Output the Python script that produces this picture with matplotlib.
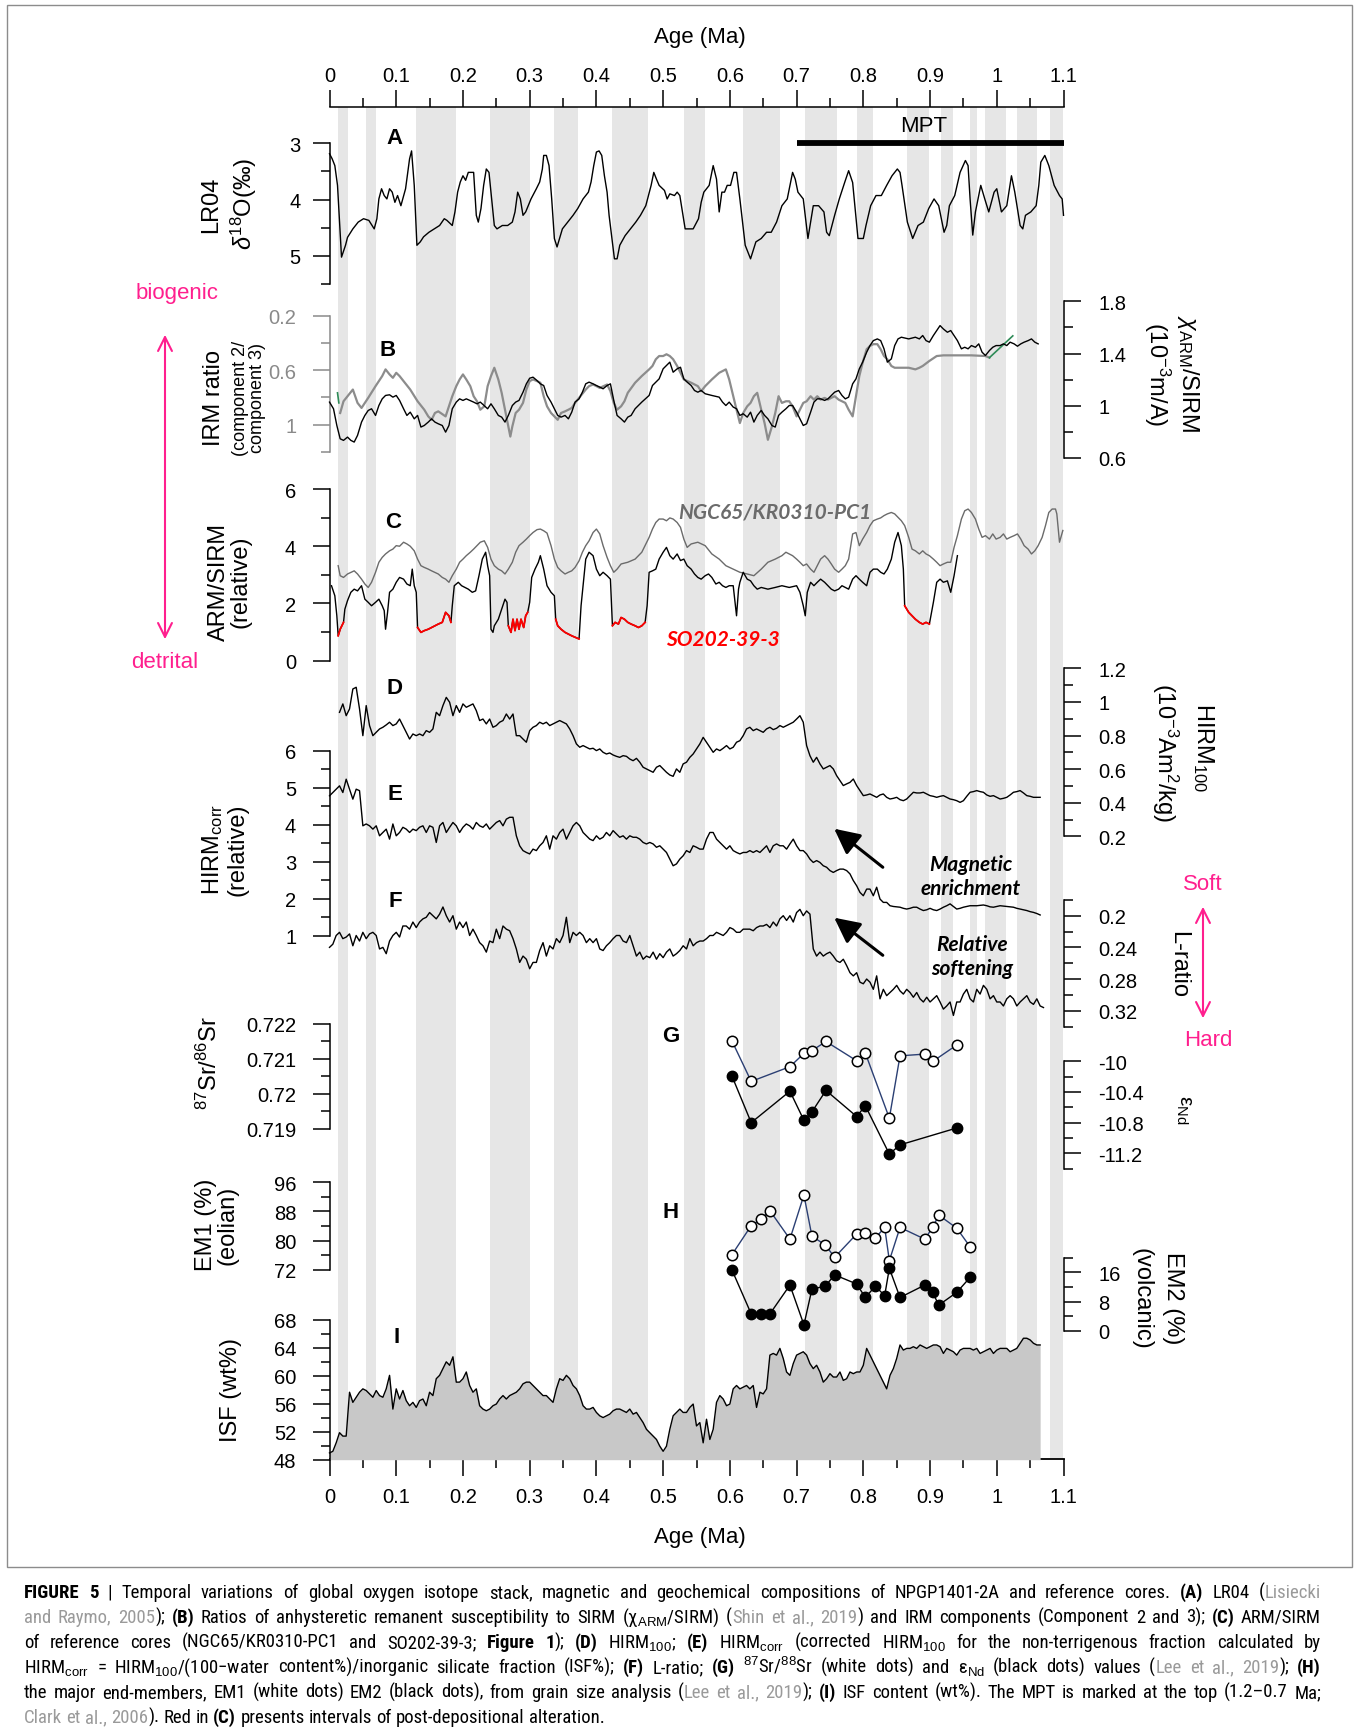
import matplotlib
matplotlib.use("Agg")
import matplotlib.pyplot as plt
import numpy as np
from matplotlib import font_manager
from matplotlib.patches import Rectangle, FancyArrowPatch

# ---------------------------------------------------------------- data
# glacial intervals (grey bands), Ma
glacial_bands = [(0.012, 0.027), (0.055, 0.069), (0.129, 0.190), (0.241, 0.300),
                 (0.336, 0.373), (0.423, 0.477), (0.532, 0.562), (0.619, 0.675),
                 (0.712, 0.760), (0.790, 0.814), (0.866, 0.898), (0.917, 0.935),
                 (0.960, 0.971), (0.982, 1.014), (1.031, 1.061), (1.080, 1.100)]
mpt_range = (0.7, 1.1)

# (A) LR04 d18O
lr04_age = [0.000, 0.004, 0.008, 0.012, 0.016, 0.018, 0.024, 0.027, 0.035, 0.043,
            0.051, 0.059, 0.067, 0.071, 0.074, 0.078, 0.082, 0.086, 0.090, 0.094,
            0.098, 0.102, 0.107, 0.114, 0.120, 0.123, 0.127, 0.131, 0.136, 0.141,
            0.149, 0.157, 0.165, 0.172, 0.176, 0.184, 0.188, 0.192, 0.196, 0.200,
            0.204, 0.208, 0.216, 0.220, 0.223, 0.227, 0.231, 0.235, 0.239, 0.243,
            0.247, 0.251, 0.259, 0.267, 0.274, 0.278, 0.282, 0.286, 0.290, 0.294,
            0.302, 0.310, 0.315, 0.319, 0.321, 0.325, 0.329, 0.333, 0.337, 0.341,
            0.349, 0.357, 0.365, 0.372, 0.380, 0.388, 0.392, 0.396, 0.400, 0.404,
            0.408, 0.412, 0.416, 0.419, 0.427, 0.431, 0.435, 0.443, 0.451, 0.459,
            0.466, 0.474, 0.482, 0.486, 0.490, 0.494, 0.502, 0.506, 0.510, 0.517,
            0.521, 0.525, 0.533, 0.545, 0.553, 0.557, 0.561, 0.569, 0.575, 0.580,
            0.584, 0.588, 0.592, 0.596, 0.601, 0.606, 0.610, 0.615, 0.623, 0.631,
            0.639, 0.647, 0.655, 0.662, 0.670, 0.678, 0.686, 0.694, 0.698, 0.702,
            0.710, 0.717, 0.725, 0.733, 0.741, 0.745, 0.749, 0.757, 0.764, 0.772,
            0.778, 0.784, 0.792, 0.800, 0.804, 0.811, 0.819, 0.827, 0.835, 0.843,
            0.851, 0.855, 0.858, 0.866, 0.874, 0.882, 0.890, 0.898, 0.906, 0.913,
            0.921, 0.925, 0.929, 0.937, 0.945, 0.953, 0.957, 0.960, 0.964, 0.968,
            0.976, 0.982, 0.988, 0.996, 1.000, 1.007, 1.015, 1.022, 1.027, 1.035,
            1.039, 1.043, 1.051, 1.059, 1.063, 1.066, 1.072, 1.078, 1.086, 1.094,
            1.098, 1.100]
lr04_d18o = [3.19, 3.28, 3.40, 3.75, 4.58, 5.02, 4.81, 4.67, 4.52, 4.40,
             4.34, 4.37, 4.52, 4.34, 3.99, 3.81, 3.93, 3.99, 3.81, 3.87,
             4.05, 3.93, 4.11, 3.81, 3.28, 3.14, 3.75, 4.81, 4.75, 4.66,
             4.58, 4.52, 4.46, 4.34, 4.37, 4.46, 4.22, 3.87, 3.69, 3.58,
             3.66, 3.52, 3.52, 4.28, 4.40, 4.16, 3.75, 3.46, 3.52, 3.99,
             4.46, 4.52, 4.46, 4.46, 4.40, 4.22, 3.87, 3.99, 4.28, 4.22,
             3.99, 3.81, 3.69, 3.46, 3.22, 3.22, 3.40, 3.99, 4.69, 4.84,
             4.52, 4.40, 4.28, 4.16, 3.99, 3.87, 3.69, 3.40, 3.16, 3.14,
             3.22, 3.58, 3.87, 4.28, 5.05, 5.05, 4.81, 4.64, 4.52, 4.40,
             4.28, 4.11, 3.75, 3.52, 3.64, 3.75, 3.84, 3.99, 3.90, 3.93,
             3.87, 3.93, 4.52, 4.52, 4.34, 4.05, 3.87, 3.75, 3.40, 3.64,
             4.22, 3.87, 3.87, 3.75, 3.75, 3.52, 3.52, 3.99, 4.81, 5.05,
             4.75, 4.69, 4.58, 4.58, 4.40, 4.11, 3.99, 3.52, 3.64, 3.87,
             3.99, 4.69, 4.11, 4.11, 4.22, 4.58, 4.64, 4.28, 3.99, 3.70,
             3.49, 3.70, 4.69, 4.69, 4.46, 4.11, 3.93, 3.93, 3.75, 3.58,
             3.46, 3.52, 3.75, 4.40, 4.69, 4.46, 4.40, 4.16, 3.99, 4.11,
             4.58, 4.46, 4.11, 3.93, 3.52, 3.31, 3.40, 3.99, 4.63, 4.22,
             3.75, 3.99, 4.22, 3.87, 3.81, 4.22, 4.11, 3.58, 3.87, 4.46,
             4.52, 4.28, 4.22, 4.11, 3.75, 3.34, 3.22, 3.40, 3.75, 3.93,
             3.99, 4.28]

# (B) chi_ARM/SIRM (black, right axis)
xarm_age = [0.000, 0.006, 0.011, 0.016, 0.021, 0.027, 0.032, 0.037, 0.042, 0.048,
            0.053, 0.058, 0.063, 0.069, 0.074, 0.079, 0.084, 0.090, 0.095, 0.100,
            0.105, 0.111, 0.116, 0.121, 0.127, 0.132, 0.137, 0.142, 0.148, 0.153,
            0.158, 0.163, 0.169, 0.174, 0.179, 0.184, 0.190, 0.195, 0.200, 0.205,
            0.216, 0.221, 0.226, 0.237, 0.242, 0.247, 0.253, 0.258, 0.263, 0.268,
            0.274, 0.279, 0.284, 0.290, 0.295, 0.300, 0.305, 0.311, 0.316, 0.321,
            0.326, 0.332, 0.337, 0.342, 0.347, 0.353, 0.358, 0.363, 0.368, 0.374,
            0.379, 0.384, 0.389, 0.395, 0.400, 0.405, 0.410, 0.416, 0.421, 0.426,
            0.431, 0.437, 0.442, 0.447, 0.452, 0.458, 0.463, 0.468, 0.479, 0.484,
            0.494, 0.500, 0.505, 0.510, 0.515, 0.521, 0.526, 0.531, 0.536, 0.542,
            0.547, 0.552, 0.557, 0.563, 0.573, 0.584, 0.589, 0.594, 0.599, 0.605,
            0.610, 0.615, 0.620, 0.626, 0.631, 0.636, 0.641, 0.647, 0.652, 0.657,
            0.663, 0.668, 0.673, 0.678, 0.684, 0.689, 0.694, 0.700, 0.705, 0.710,
            0.715, 0.721, 0.726, 0.731, 0.736, 0.742, 0.747, 0.752, 0.757, 0.763,
            0.768, 0.773, 0.778, 0.784, 0.789, 0.794, 0.799, 0.805, 0.810, 0.815,
            0.821, 0.826, 0.831, 0.836, 0.842, 0.847, 0.852, 0.857, 0.868, 0.878,
            0.884, 0.889, 0.894, 0.899, 0.905, 0.910, 0.915, 0.920, 0.926, 0.931,
            0.936, 0.941, 0.947, 0.952, 0.957, 0.962, 0.968, 0.973, 0.978, 0.983,
            0.989, 0.994, 0.999, 1.005, 1.010, 1.015, 1.020, 1.026, 1.031, 1.036,
            1.041, 1.047, 1.052, 1.057, 1.062]
xarm_sirm = [1.028, 0.977, 0.849, 0.747, 0.735, 0.760, 0.735, 0.722, 0.773, 0.875,
             0.926, 0.964, 0.977, 0.926, 1.002, 1.053, 1.079, 1.084, 1.066, 1.079,
             1.041, 0.977, 0.926, 0.951, 0.900, 0.926, 0.837, 0.849, 0.875, 0.900,
             0.875, 0.862, 0.849, 0.798, 0.849, 0.977, 1.028, 1.053, 1.041, 1.053,
             1.028, 1.015, 1.028, 0.977, 1.015, 0.977, 0.926, 0.913, 0.875, 0.926,
             1.002, 1.028, 1.041, 1.104, 1.168, 1.211, 1.219, 1.193, 1.168, 1.155,
             1.079, 1.028, 0.977, 0.926, 0.913, 0.926, 0.900, 0.951, 1.028, 1.053,
             1.104, 1.168, 1.181, 1.168, 1.155, 1.143, 1.130, 1.155, 1.168, 1.041,
             0.926, 0.900, 0.875, 0.913, 0.926, 0.977, 1.002, 1.028, 1.079, 1.155,
             1.206, 1.283, 1.308, 1.334, 1.257, 1.283, 1.295, 1.206, 1.181, 1.155,
             1.117, 1.104, 1.117, 1.092, 1.079, 1.066, 1.028, 1.002, 1.028, 0.990,
             0.977, 0.926, 0.939, 0.913, 0.951, 0.875, 0.926, 0.964, 0.926, 0.900,
             0.849, 0.837, 0.926, 0.951, 0.977, 1.002, 1.002, 0.951, 0.900, 0.849,
             0.862, 0.951, 1.028, 1.053, 1.053, 1.041, 1.053, 1.079, 1.104, 1.117,
             1.079, 1.053, 1.066, 1.168, 1.206, 1.283, 1.334, 1.410, 1.461, 1.499,
             1.512, 1.499, 1.436, 1.334, 1.359, 1.461, 1.512, 1.525, 1.512, 1.525,
             1.512, 1.538, 1.499, 1.487, 1.538, 1.576, 1.614, 1.588, 1.563, 1.576,
             1.538, 1.499, 1.436, 1.448, 1.436, 1.461, 1.448, 1.474, 1.410, 1.385,
             1.423, 1.448, 1.461, 1.461, 1.474, 1.461, 1.487, 1.474, 1.456, 1.474,
             1.487, 1.499, 1.512, 1.487, 1.474]

# (B) IRM ratio component 2 / component 3 (grey, left axis, reversed)
irm_age = [0.016, 0.021, 0.027, 0.035, 0.042, 0.048, 0.058, 0.069, 0.079, 0.084,
           0.090, 0.095, 0.100, 0.105, 0.111, 0.121, 0.132, 0.142, 0.148, 0.153,
           0.158, 0.163, 0.174, 0.184, 0.190, 0.195, 0.200, 0.205, 0.211, 0.216,
           0.221, 0.226, 0.232, 0.237, 0.242, 0.247, 0.253, 0.258, 0.263, 0.268,
           0.271, 0.274, 0.279, 0.284, 0.290, 0.295, 0.300, 0.305, 0.311, 0.316,
           0.321, 0.326, 0.332, 0.337, 0.342, 0.347, 0.353, 0.358, 0.363, 0.368,
           0.374, 0.384, 0.389, 0.395, 0.400, 0.405, 0.416, 0.421, 0.426, 0.431,
           0.437, 0.442, 0.447, 0.458, 0.468, 0.479, 0.484, 0.489, 0.494, 0.500,
           0.505, 0.510, 0.515, 0.521, 0.526, 0.531, 0.542, 0.552, 0.557, 0.563,
           0.573, 0.584, 0.594, 0.599, 0.605, 0.610, 0.615, 0.620, 0.626, 0.631,
           0.636, 0.641, 0.647, 0.652, 0.657, 0.663, 0.668, 0.673, 0.678, 0.684,
           0.689, 0.694, 0.700, 0.705, 0.710, 0.715, 0.721, 0.726, 0.731, 0.736,
           0.742, 0.747, 0.752, 0.757, 0.763, 0.768, 0.773, 0.778, 0.784, 0.789,
           0.794, 0.799, 0.805, 0.810, 0.815, 0.821, 0.826, 0.831, 0.836, 0.842,
           0.847, 0.857, 0.868, 0.878, 0.884, 0.889, 0.899, 0.910, 0.920, 0.941,
           0.962, 0.983, 0.989]
irm_ratio = [0.914, 0.828, 0.791, 0.742, 0.840, 0.877, 0.803, 0.717, 0.643, 0.594,
             0.631, 0.656, 0.619, 0.643, 0.680, 0.742, 0.828, 0.890, 0.939, 0.964,
             0.914, 0.902, 0.939, 0.791, 0.717, 0.668, 0.631, 0.668, 0.717, 0.791,
             0.828, 0.890, 0.865, 0.717, 0.643, 0.582, 0.668, 0.766, 0.890, 1.013,
             1.087, 1.013, 0.914, 0.890, 0.840, 0.742, 0.680, 0.668, 0.680, 0.692,
             0.791, 0.865, 0.914, 0.939, 0.964, 0.914, 0.902, 0.890, 0.877, 0.840,
             0.803, 0.742, 0.717, 0.705, 0.717, 0.730, 0.705, 0.754, 0.840, 0.890,
             0.865, 0.828, 0.766, 0.692, 0.643, 0.594, 0.569, 0.520, 0.496, 0.496,
             0.483, 0.496, 0.520, 0.569, 0.619, 0.668, 0.692, 0.717, 0.754, 0.717,
             0.668, 0.619, 0.594, 0.668, 0.791, 0.890, 0.988, 0.914, 0.865, 0.840,
             0.791, 0.766, 0.890, 0.988, 1.111, 1.013, 0.914, 0.791, 0.840, 0.828,
             0.828, 0.865, 0.939, 0.890, 0.840, 0.828, 0.791, 0.816, 0.791, 0.816,
             0.803, 0.816, 0.803, 0.791, 0.816, 0.828, 0.840, 0.890, 0.939, 0.791,
             0.643, 0.545, 0.446, 0.422, 0.409, 0.409, 0.446, 0.496, 0.520, 0.569,
             0.582, 0.582, 0.582, 0.594, 0.582, 0.569, 0.532, 0.496, 0.491, 0.491,
             0.491, 0.496, 0.508]
irm_green = [([0.012, 0.014], [0.766, 0.840]), ([0.989, 1.024], [0.508, 0.348])]

# (C) ARM/SIRM of reference cores
ngc_age = [0.013, 0.016, 0.021, 0.027, 0.037, 0.042, 0.048, 0.053, 0.058, 0.063,
           0.069, 0.074, 0.079, 0.084, 0.090, 0.095, 0.100, 0.105, 0.111, 0.116,
           0.121, 0.127, 0.132, 0.137, 0.142, 0.148, 0.153, 0.163, 0.169, 0.174,
           0.179, 0.184, 0.190, 0.195, 0.200, 0.205, 0.211, 0.216, 0.221, 0.226,
           0.232, 0.237, 0.242, 0.247, 0.253, 0.258, 0.263, 0.268, 0.274, 0.279,
           0.284, 0.290, 0.295, 0.300, 0.305, 0.311, 0.316, 0.321, 0.326, 0.332,
           0.337, 0.342, 0.347, 0.353, 0.358, 0.363, 0.368, 0.374, 0.379, 0.384,
           0.389, 0.395, 0.400, 0.405, 0.410, 0.416, 0.421, 0.426, 0.431, 0.437,
           0.447, 0.458, 0.468, 0.479, 0.484, 0.489, 0.494, 0.500, 0.505, 0.510,
           0.515, 0.521, 0.526, 0.531, 0.536, 0.542, 0.552, 0.563, 0.573, 0.584,
           0.594, 0.605, 0.615, 0.626, 0.636, 0.647, 0.657, 0.668, 0.678, 0.684,
           0.689, 0.694, 0.700, 0.705, 0.710, 0.715, 0.721, 0.726, 0.731, 0.736,
           0.742, 0.747, 0.752, 0.757, 0.763, 0.768, 0.773, 0.778, 0.784, 0.789,
           0.794, 0.799, 0.805, 0.810, 0.815, 0.821, 0.826, 0.831, 0.836, 0.842,
           0.847, 0.852, 0.857, 0.862, 0.868, 0.873, 0.878, 0.884, 0.889, 0.894,
           0.899, 0.905, 0.910, 0.915, 0.920, 0.926, 0.931, 0.936, 0.941, 0.947,
           0.952, 0.957, 0.962, 0.968, 0.973, 0.978, 0.983, 0.989, 0.994, 0.999,
           1.005, 1.010, 1.015, 1.020, 1.026, 1.031, 1.036, 1.041, 1.047, 1.052,
           1.057, 1.062, 1.068, 1.073, 1.078, 1.083, 1.088, 1.090, 1.094, 1.099]
ngc_arm = [3.32, 2.97, 2.91, 3.03, 3.14, 3.03, 2.85, 2.68, 2.56, 2.74,
           3.09, 3.44, 3.61, 3.73, 3.84, 3.90, 4.02, 4.00, 4.14, 4.08,
           4.00, 3.84, 3.55, 3.32, 3.26, 3.20, 3.14, 3.03, 2.91, 2.85,
           2.74, 2.97, 3.20, 3.44, 3.55, 3.67, 3.79, 3.90, 4.02, 4.14,
           4.19, 3.96, 3.55, 3.32, 3.20, 3.14, 3.03, 3.20, 3.44, 3.79,
           4.02, 4.14, 4.25, 4.37, 4.48, 4.58, 4.60, 4.54, 4.46, 4.02,
           3.55, 3.26, 3.14, 3.03, 3.09, 3.14, 3.26, 3.49, 3.79, 4.02,
           4.19, 4.48, 4.60, 4.43, 4.02, 3.61, 3.32, 3.09, 3.20, 3.38,
           3.44, 3.55, 3.79, 4.31, 4.60, 4.83, 4.95, 4.95, 4.89, 4.99,
           4.95, 4.83, 4.66, 4.25, 3.96, 4.08, 4.14, 4.02, 3.73, 3.55,
           3.32, 3.20, 3.09, 3.03, 2.97, 3.20, 3.44, 3.55, 3.67, 3.79,
           3.73, 3.67, 3.55, 3.44, 3.32, 3.38, 3.20, 3.09, 3.32, 3.55,
           3.67, 3.55, 3.38, 3.20, 3.09, 3.20, 3.32, 3.55, 4.43, 4.48,
           4.02, 4.25, 4.48, 4.72, 4.89, 4.95, 4.99, 5.07, 5.13, 5.18,
           5.13, 5.01, 4.89, 4.72, 4.31, 3.90, 3.84, 3.73, 3.84, 3.73,
           3.67, 3.55, 3.44, 3.32, 3.38, 3.44, 3.44, 3.96, 4.37, 4.95,
           5.24, 5.30, 5.18, 4.95, 4.60, 4.31, 4.37, 4.25, 4.43, 4.25,
           4.31, 4.43, 4.25, 4.31, 4.37, 4.43, 4.25, 4.02, 3.90, 3.73,
           3.84, 4.02, 4.31, 4.72, 5.18, 5.30, 5.30, 5.13, 4.14, 4.55]

so_age = [0.003, 0.008, 0.011, 0.013, 0.016, 0.021, 0.023, 0.027, 0.032, 0.037,
          0.042, 0.048, 0.053, 0.058, 0.063, 0.069, 0.074, 0.079, 0.082, 0.084,
          0.087, 0.090, 0.095, 0.100, 0.105, 0.111, 0.116, 0.121, 0.124, 0.127,
          0.130, 0.132, 0.137, 0.142, 0.148, 0.153, 0.158, 0.163, 0.169, 0.174,
          0.179, 0.182, 0.184, 0.187, 0.193, 0.198, 0.203, 0.208, 0.214, 0.219,
          0.224, 0.229, 0.234, 0.237, 0.240, 0.242, 0.245, 0.247, 0.253, 0.258,
          0.263, 0.266, 0.268, 0.272, 0.275, 0.278, 0.281, 0.284, 0.287, 0.291,
          0.294, 0.297, 0.300, 0.303, 0.308, 0.313, 0.316, 0.321, 0.326, 0.332,
          0.337, 0.339, 0.342, 0.347, 0.353, 0.358, 0.363, 0.368, 0.374, 0.377,
          0.380, 0.384, 0.389, 0.395, 0.400, 0.405, 0.410, 0.416, 0.421, 0.424,
          0.428, 0.433, 0.437, 0.442, 0.447, 0.452, 0.458, 0.463, 0.468, 0.473,
          0.476, 0.479, 0.484, 0.489, 0.494, 0.500, 0.505, 0.510, 0.515, 0.521,
          0.526, 0.531, 0.536, 0.542, 0.547, 0.552, 0.557, 0.563, 0.568, 0.573,
          0.579, 0.584, 0.589, 0.594, 0.599, 0.605, 0.610, 0.613, 0.615, 0.620,
          0.626, 0.631, 0.636, 0.641, 0.647, 0.657, 0.668, 0.678, 0.689, 0.700,
          0.705, 0.710, 0.713, 0.716, 0.721, 0.726, 0.731, 0.736, 0.742, 0.747,
          0.752, 0.757, 0.763, 0.768, 0.773, 0.778, 0.784, 0.789, 0.794, 0.799,
          0.805, 0.810, 0.815, 0.821, 0.826, 0.831, 0.836, 0.842, 0.847, 0.852,
          0.857, 0.860, 0.862, 0.868, 0.873, 0.878, 0.884, 0.889, 0.894, 0.899,
          0.905, 0.910, 0.915, 0.920, 0.926, 0.931, 0.936, 0.941]
so_arm = [2.62, 2.27, 1.57, 0.87, 1.10, 1.34, 1.80, 2.10, 2.39, 2.50,
          2.44, 2.62, 2.15, 2.04, 1.92, 2.04, 2.15, 1.92, 1.75, 1.10,
          1.69, 2.39, 2.50, 2.74, 2.91, 2.85, 2.68, 2.62, 3.20, 2.62,
          2.39, 1.16, 0.99, 1.05, 1.10, 1.16, 1.22, 1.28, 1.34, 1.69,
          1.57, 1.34, 1.92, 2.62, 2.74, 2.62, 2.56, 2.50, 2.39, 2.44,
          2.97, 3.55, 3.79, 3.32, 2.97, 1.10, 0.99, 1.22, 1.45, 1.80,
          2.15, 2.04, 1.22, 0.99, 1.45, 1.05, 1.45, 1.10, 1.45, 1.16,
          1.57, 1.69, 2.04, 2.91, 3.20, 3.44, 3.67, 3.20, 2.62, 2.39,
          2.27, 1.45, 1.22, 1.10, 0.99, 0.93, 0.87, 0.82, 0.76, 1.92,
          2.62, 3.55, 3.79, 3.67, 3.20, 2.97, 3.09, 2.97, 2.85, 1.22,
          1.34, 1.28, 1.51, 1.45, 1.34, 1.28, 1.22, 1.16, 1.22, 1.34,
          1.92, 3.09, 3.14, 3.20, 3.55, 3.79, 3.96, 3.67, 3.55, 3.73,
          3.50, 3.55, 3.32, 3.20, 3.03, 2.91, 2.85, 2.97, 3.03, 2.91,
          2.68, 2.74, 2.62, 2.56, 2.62, 2.62, 1.57, 2.50, 2.74, 3.09,
          2.85, 2.79, 2.62, 2.50, 2.56, 2.50, 2.56, 2.62, 2.56, 2.62,
          2.39, 1.92, 1.57, 2.39, 2.74, 2.62, 2.74, 2.85, 2.74, 2.62,
          2.50, 2.44, 2.50, 2.62, 2.56, 2.50, 2.85, 2.97, 2.85, 2.74,
          2.62, 3.09, 3.20, 3.20, 3.09, 3.03, 3.20, 3.55, 4.14, 4.48,
          4.02, 3.20, 1.92, 1.69, 1.57, 1.45, 1.34, 1.28, 1.34, 1.28,
          2.04, 2.74, 2.85, 2.74, 2.79, 2.39, 2.97, 3.67]
# post-depositional alteration intervals in SO202-39-3 (drawn red)
so_altered = [(0.012, 0.022), (0.131, 0.183), (0.267, 0.298),
              (0.338, 0.375), (0.423, 0.474), (0.861, 0.900)]

# (D)-(F), (I): NPGP1401-2A, resampled every 5 kyr
hirm_start = 0.015
hirm100 = [0.938, 0.988, 0.918, 0.958, 1.077, 1.087, 0.958, 0.799,
           0.978, 0.859, 0.799, 0.819, 0.839, 0.849, 0.863, 0.879, 0.859, 0.869, 0.898,
           0.859, 0.819, 0.779, 0.809, 0.799, 0.809, 0.799, 0.829, 0.819, 0.839,
           0.938, 0.918, 0.978, 1.027, 0.998, 0.918, 0.978, 0.938, 0.988, 0.968, 0.978,
           0.988, 0.948, 0.889, 0.898, 0.869, 0.898, 0.849, 0.859, 0.879, 0.889,
           0.928, 0.898, 0.928, 0.799, 0.799, 0.779, 0.760, 0.829, 0.849, 0.859, 0.879,
           0.869, 0.879, 0.859, 0.869, 0.879, 0.889, 0.879, 0.869, 0.839, 0.799,
           0.750, 0.730, 0.740, 0.730, 0.720, 0.724, 0.710, 0.720, 0.700, 0.690,
           0.696, 0.684, 0.676, 0.670, 0.680, 0.676, 0.660, 0.650, 0.664, 0.641,
           0.611, 0.601, 0.591, 0.581, 0.611, 0.621, 0.601, 0.581, 0.565, 0.557, 0.601,
           0.581, 0.631, 0.641, 0.670, 0.690, 0.720, 0.750, 0.789, 0.760, 0.730,
           0.700, 0.720, 0.710, 0.724, 0.740, 0.720, 0.730, 0.760, 0.769, 0.799, 0.839,
           0.849, 0.829, 0.839, 0.829, 0.819, 0.839, 0.849, 0.835, 0.843, 0.859,
           0.849, 0.859, 0.869, 0.879, 0.898, 0.918, 0.879, 0.740, 0.680, 0.641,
           0.670, 0.631, 0.601, 0.611, 0.621, 0.601, 0.561, 0.531, 0.502, 0.512, 0.521,
           0.541, 0.502, 0.472, 0.442, 0.446, 0.452, 0.442, 0.432, 0.446, 0.452,
           0.432, 0.422, 0.426, 0.432, 0.418, 0.412, 0.422, 0.442, 0.462, 0.458,
           0.458, 0.462, 0.452, 0.442, 0.438, 0.432, 0.438, 0.442, 0.432, 0.422, 0.418,
           0.412, 0.402, 0.412, 0.438, 0.462, 0.466, 0.472, 0.466, 0.462, 0.446,
           0.438, 0.442, 0.432, 0.422, 0.426, 0.432, 0.446, 0.462, 0.466, 0.472,
           0.458, 0.442, 0.438, 0.432, 0.432, 0.432]

hirm_corr = [4.78, 4.87, 4.96, 5.05, 4.87, 5.23, 4.96, 4.69, 4.96, 4.92, 3.97,
             4.02, 3.97, 3.88, 3.97, 3.70, 3.79, 3.88, 3.61, 4.02, 3.70, 3.79,
             3.93, 3.88, 3.79, 3.88, 3.84, 3.93, 3.97, 3.79, 3.97, 3.93,
             3.52, 3.97, 4.06, 3.79, 3.93, 4.06, 3.97, 3.79, 3.93, 4.02, 3.97,
             3.88, 4.06, 3.97, 3.93, 4.02, 3.88, 3.97, 4.06, 4.11, 3.97,
             4.15, 4.20, 4.20, 3.70, 3.43, 3.30, 3.25, 3.21, 3.34, 3.30, 3.43,
             3.52, 3.70, 3.34, 3.70, 3.61, 3.79, 3.88, 3.61, 3.79, 3.97,
             4.06, 3.97, 3.79, 3.70, 3.61, 3.57, 3.70, 3.61, 3.66, 3.79,
             3.70, 3.84, 3.75, 3.66, 3.70, 3.61, 3.70, 3.66, 3.66, 3.61,
             3.52, 3.48, 3.52, 3.48, 3.39, 3.43, 3.34, 3.25, 3.07, 2.89, 2.94,
             3.07, 3.16, 3.30, 3.25, 3.43, 3.39, 3.34, 3.34, 3.61, 3.79,
             3.79, 3.61, 3.52, 3.43, 3.34, 3.43, 3.30, 3.25, 3.21, 3.25, 3.25,
             3.30, 3.25, 3.30, 3.25, 3.34, 3.43, 3.25, 3.43, 3.48, 3.43,
             3.43, 3.34, 3.48, 3.61, 3.43, 3.30, 3.30, 3.21, 3.07, 2.98, 3.03,
             2.98, 2.89, 2.85, 2.76, 2.71, 2.76, 2.80, 2.80, 2.76, 2.67,
             2.49, 2.35, 2.17, 2.08, 2.26, 2.26, 2.08, 2.31, 1.99, 1.90,
             1.90, 1.81, 1.79, 1.78, 1.77, 1.74, 1.72, 1.74, 1.77, 1.77,
             1.72, 1.68, 1.70, 1.74, 1.70, 1.68, 1.72, 1.77, 1.81, 1.86, 1.79,
             1.72, 1.74, 1.77, 1.79, 1.81, 1.81, 1.81, 1.82, 1.83, 1.81,
             1.78, 1.77, 1.79, 1.81, 1.80, 1.79, 1.78, 1.77, 1.74, 1.72,
             1.70, 1.68, 1.65, 1.63, 1.60, 1.56]

l_ratio = [0.240, 0.236, 0.225, 0.221, 0.229, 0.227, 0.223, 0.238, 0.225, 0.232, 0.221,
           0.229, 0.223, 0.221, 0.225, 0.242, 0.240, 0.248, 0.232, 0.225, 0.221, 0.227,
           0.213, 0.213, 0.217, 0.208, 0.215, 0.208, 0.204, 0.202, 0.196, 0.200,
           0.204, 0.198, 0.189, 0.200, 0.208, 0.200, 0.217, 0.208, 0.215, 0.208, 0.225,
           0.217, 0.225, 0.234, 0.238, 0.246, 0.232, 0.234, 0.217, 0.229, 0.213,
           0.217, 0.219, 0.229, 0.242, 0.259, 0.251, 0.255, 0.267, 0.259, 0.259, 0.244,
           0.234, 0.251, 0.238, 0.242, 0.229, 0.234, 0.225, 0.202, 0.234, 0.221,
           0.225, 0.221, 0.225, 0.234, 0.229, 0.234, 0.229, 0.242, 0.244, 0.238,
           0.234, 0.229, 0.225, 0.225, 0.232, 0.234, 0.225, 0.238, 0.251, 0.246,
           0.255, 0.251, 0.253, 0.246, 0.255, 0.248, 0.253, 0.246, 0.242, 0.251, 0.248,
           0.244, 0.238, 0.242, 0.229, 0.238, 0.234, 0.232, 0.232, 0.229, 0.225,
           0.225, 0.221, 0.223, 0.225, 0.221, 0.215, 0.217, 0.221, 0.221, 0.217, 0.217,
           0.217, 0.219, 0.215, 0.213, 0.213, 0.211, 0.215, 0.208, 0.213, 0.204,
           0.200, 0.206, 0.200, 0.208, 0.196, 0.192, 0.200, 0.194, 0.198, 0.242, 0.251,
           0.246, 0.251, 0.248, 0.246, 0.251, 0.257, 0.259, 0.255, 0.263, 0.272,
           0.276, 0.272, 0.284, 0.286, 0.280, 0.284, 0.293, 0.276, 0.305, 0.293,
           0.301, 0.297, 0.293, 0.288, 0.295, 0.299, 0.293, 0.297, 0.303, 0.297,
           0.305, 0.309, 0.303, 0.309, 0.305, 0.301, 0.309, 0.318, 0.314, 0.309, 0.326,
           0.309, 0.309, 0.299, 0.293, 0.305, 0.309, 0.293, 0.299, 0.288, 0.293,
           0.305, 0.301, 0.309, 0.309, 0.314, 0.305, 0.301, 0.305, 0.314, 0.309,
           0.305, 0.301, 0.309, 0.312, 0.305, 0.314, 0.316]

isf = [48.96, 49.20, 50.41, 51.86, 51.37, 51.37, 57.64, 56.19, 56.92, 57.64, 58.12,
       57.88, 57.40, 56.92, 57.88, 57.16, 56.92, 58.12, 60.05, 55.23, 58.12, 56.67,
       57.88, 56.43, 55.71, 56.19, 55.47, 56.43, 56.67, 55.71, 57.64, 57.16,
       59.57, 60.05, 61.01, 61.98, 61.49, 62.70, 59.08, 59.08, 59.57, 60.53, 58.60,
       57.64, 58.12, 55.71, 55.23, 54.99, 55.23, 55.71, 55.95, 56.67, 57.16,
       56.67, 57.16, 57.40, 57.64, 58.12, 58.84, 59.08, 59.08, 58.60, 58.12, 57.64,
       57.16, 57.16, 56.67, 56.19, 58.12, 59.57, 59.33, 60.05, 59.57, 58.60,
       58.12, 57.16, 55.71, 55.23, 55.23, 55.47, 54.75, 54.27, 54.02, 54.27,
       54.51, 54.99, 55.23, 55.23, 54.99, 54.75, 55.23, 54.51, 54.75, 54.02,
       53.30, 52.34, 51.86, 51.37, 50.89, 49.93, 49.20, 49.93, 52.34, 54.27, 54.75,
       55.23, 54.75, 54.75, 55.47, 55.95, 52.82, 53.30, 50.41, 53.78, 50.89,
       52.34, 56.19, 57.16, 56.67, 55.71, 55.95, 58.12, 58.60, 58.12, 58.36, 58.60,
       58.12, 58.60, 55.47, 57.64, 57.40, 58.12, 62.94, 63.18, 62.94, 63.90,
       62.46, 60.53, 60.05, 61.73, 62.94, 63.18, 63.42, 62.94, 61.73, 61.01, 61.49,
       60.53, 59.08, 59.57, 60.29, 59.81, 59.81, 60.53, 59.33, 59.57, 60.53,
       60.29, 60.53, 60.53, 61.49, 63.90, 62.94, 61.98, 61.01, 60.05, 59.08,
       58.12, 60.05, 61.01, 62.46, 64.39, 63.66, 63.90, 63.90, 64.14, 63.90,
       64.39, 64.14, 63.90, 64.14, 64.39, 64.39, 64.14, 63.18, 63.90, 63.66, 63.42,
       62.94, 63.66, 63.90, 63.90, 63.90, 63.66, 63.90, 63.18, 63.42, 63.66,
       63.90, 63.18, 63.66, 63.90, 63.90, 63.90, 63.42, 63.66, 63.90, 64.63,
       65.35, 65.35, 65.11, 64.63, 64.39, 64.39]

# (G) 87Sr/86Sr (white dots) and eps Nd (black dots)
sr_age = [0.603, 0.632, 0.690, 0.711, 0.723, 0.744, 0.790, 0.803, 0.839, 0.855, 0.892, 0.904, 0.940]
sr_ratio = [0.72152, 0.72036, 0.72078, 0.72116, 0.72124, 0.72150, 0.72095,
            0.72117, 0.71931, 0.72109, 0.72114, 0.72093, 0.72140]
nd_age = [0.603, 0.632, 0.690, 0.711, 0.723, 0.744, 0.790, 0.803, 0.839, 0.855, 0.940]
eps_nd = [-10.19, -10.80, -10.39, -10.77, -10.66, -10.38, -10.72, -10.58, -11.21, -11.09, -10.87]

# (H) grain-size end-members
em_age = [0.603, 0.632, 0.647, 0.660, 0.690, 0.711, 0.723, 0.743, 0.757, 0.790,
          0.803, 0.818, 0.832, 0.839, 0.855, 0.892, 0.904, 0.913, 0.940, 0.960]
em1 = [76.1, 84.1, 85.9, 88.2, 80.4, 92.5, 81.2, 78.8, 75.4, 81.8,
       82.0, 80.7, 83.6, 74.5, 83.6, 80.4, 83.6, 87.0, 83.4, 78.3]
em2 = [16.7, 4.6, 4.6, 4.6, 12.5, 1.6, 11.4, 12.2, 15.3, 12.8,
       9.1, 12.2, 9.6, 17.1, 9.1, 12.5, 10.5, 7.0, 10.5, 14.6]

age_ticks = [0.0, 0.1, 0.2, 0.3, 0.4, 0.5, 0.6, 0.7, 0.8, 0.9, 1.0, 1.1]

# ---------------------------------------------------------------- style
plt.rcParams["font.family"] = ["Liberation Sans", "DejaVu Sans"]
plt.rcParams["mathtext.fontset"] = "custom"
plt.rcParams["mathtext.rm"] = "Liberation Sans"
plt.rcParams["mathtext.it"] = "Liberation Sans:italic"
plt.rcParams["mathtext.bf"] = "Liberation Sans:bold"
plt.rcParams["axes.linewidth"] = 1.1

PINK = "#ff1f8e"
BAND = "#e6e6e6"
NAVY = "#2b3f73"
W, H = 1354, 1733
X0, X1 = 329.5, 1063.5          # pixel columns of 0 Ma and 1.1 Ma

fig = plt.figure(figsize=(W / 100, H / 100), dpi=100)


def xy(px, py):
    return px / W, 1 - py / H


def age_px(a):
    return X0 + a / 1.1 * (X1 - X0)


def panel(v1, p1, v2, p2, vtop, vbot, side="left", color="black", pad=12):
    k = (p2 - p1) / (v2 - v1)
    ptop = p1 + (vtop - v1) * k
    pbot = p1 + (vbot - v1) * k
    ax = fig.add_axes([X0 / W, 1 - pbot / H, (X1 - X0) / W, (pbot - ptop) / H])
    ax.set_xlim(0, 1.1)
    ax.set_ylim(vbot, vtop)
    ax.patch.set_alpha(0)
    for s in ax.spines.values():
        s.set_visible(False)
    ax.spines[side].set_visible(True)
    ax.spines[side].set_color(color)
    ax.set_xticks([])
    ax.yaxis.set_ticks_position(side)
    ax.tick_params(axis="y", which="major", length=12, width=1.1, colors=color,
                   labelsize=14.5, pad=pad)
    ax.tick_params(axis="y", which="minor", length=6.5, width=1.1, colors=color)
    return ax


def ticks(ax, major, labels, minor):
    ax.set_yticks(major)
    ax.set_yticklabels(labels)
    ax.set_yticks(minor, minor=True)


def grid(start, n):
    return start + 0.005 * np.arange(n)


# background bands + bottom age axis
bg = fig.add_axes([X0 / W, 1 - 1460 / H, (X1 - X0) / W, (1460 - 108) / H])
bg.set_xlim(0, 1.1)
bg.set_ylim(0, 1)
for a, b in glacial_bands:
    bg.axvspan(a, b, color=BAND, lw=0)
for s in ["left", "right", "top"]:
    bg.spines[s].set_visible(False)
bg.spines["bottom"].set_linewidth(1.3)
bg.set_yticks([])
bg.set_xticks(age_ticks)
bg.set_xticklabels([f"{t:g}" for t in age_ticks])
bg.set_xticks(np.array(age_ticks[:-1]) + 0.05, minor=True)
bg.tick_params(axis="x", which="major", length=12.5, width=1.1, labelsize=14.5, pad=8)
bg.tick_params(axis="x", which="minor", length=6.5, width=1.1)

# top age axis
top = fig.add_axes([X0 / W, 1 - 1460 / H, (X1 - X0) / W, (1460 - 108) / H])
top.set_xlim(0, 1.1)
top.patch.set_alpha(0)
for s in ["left", "right", "bottom"]:
    top.spines[s].set_visible(False)
top.set_yticks([])
top.xaxis.set_ticks_position("top")
top.set_xticks(age_ticks)
top.set_xticklabels([f"{t:g}" for t in age_ticks])
top.set_xticks(np.array(age_ticks[:-1]) + 0.05, minor=True)
top.tick_params(axis="x", which="major", length=12.5, width=1.1, labelsize=14.5, pad=3)
top.tick_params(axis="x", which="minor", length=6.5, width=1.1)

fig.text(*xy(700, 37), "Age (Ma)", fontsize=16, ha="center", va="center")
fig.text(*xy(700, 1538), "Age (Ma)", fontsize=16, ha="center", va="center")

# (A)
ax_a = panel(3, 144, 5, 257, 3, 5.5, pad=9)
ticks(ax_a, [3, 4, 5], ["3", "4", "5"], [3.5, 4.5, 5.5])
ax_a.plot(lr04_age, lr04_d18o, color="black", lw=1.0, clip_on=False)
ax_a.plot(mpt_range, [3, 3], color="black", lw=4.2, solid_capstyle="butt", clip_on=False)
fig.text(*xy(age_px(0.89), 127), "MPT", fontsize=16, ha="center", va="center")

# (B)
ax_bl = panel(0.2, 316.7, 1.0, 425.7, 0.2, 1.2, color="#8a8a8a")
ticks(ax_bl, [0.2, 0.6, 1.0], ["0.2", "0.6", "1"], [0.4, 0.8, 1.2])
ax_br = panel(1.8, 302.3, 0.6, 459, 1.8, 0.6, side="right", pad=13)
ticks(ax_br, [1.8, 1.4, 1.0, 0.6], ["1.8", "1.4", "1", "0.6"], [1.6, 1.2, 0.8])
ax_bl.plot(irm_age, irm_ratio, color="#8c8c8c", lw=1.6, clip_on=False)
ax_br.plot(xarm_age, xarm_sirm, color="black", lw=1.0, clip_on=False)
for ga, gv in irm_green:
    ax_bl.plot(ga, gv, color="#2e8b57", lw=1.2, clip_on=False)

# (C)
ax_c = panel(6, 490, 0, 661.7, 6, 0)
ticks(ax_c, [6, 4, 2, 0], ["6", "4", "2", "0"], [5, 3, 1])
ax_c.plot(ngc_age, ngc_arm, color="#6b6b6b", lw=1.0, clip_on=False)
ax_c.plot(so_age, so_arm, color="black", lw=1.0, clip_on=False)
so_a = np.array(so_age)
so_v = np.array(so_arm)
for a, b in so_altered:
    m = (so_a >= a) & (so_a <= b)
    ax_c.plot(so_a[m], so_v[m], color="red", lw=1.3, clip_on=False)
fig.text(*xy(775, 513), "NGC65/KR0310-PC1", fontsize=15, family="Lato", fontweight="bold",
         fontstyle="italic", color="#6b6b6b", ha="center", va="center")
fig.text(*xy(723, 640), "SO202-39-3", fontsize=15, family="Lato", fontweight="bold",
         fontstyle="italic", color="red", ha="center", va="center")

# (D) HIRM100
ax_d = panel(1.2, 669.3, 0.2, 837.3, 1.2, 0.2, side="right", pad=13)
ticks(ax_d, [1.2, 1.0, 0.8, 0.6, 0.4, 0.2], ["1.2", "1", "0.8", "0.6", "0.4", "0.2"],
      [1.1, 0.9, 0.7, 0.5, 0.3])
ax_d.plot(grid(hirm_start, len(hirm100)), hirm100, color="black", lw=1.0, clip_on=False)

# (E) HIRMcorr
ax_e = panel(6, 751.7, 1, 936.7, 6, 1)
ticks(ax_e, [6, 5, 4, 3, 2, 1], ["6", "5", "4", "3", "2", "1"], [5.5, 4.5, 3.5, 2.5, 1.5])
ax_e.plot(grid(0.0, len(hirm_corr)), hirm_corr, color="black", lw=1.0, clip_on=False)

# (F) L-ratio
ax_f = panel(0.2, 916.7, 0.32, 1011.7, 0.18, 0.34, side="right", pad=13)
ticks(ax_f, [0.2, 0.24, 0.28, 0.32], ["0.2", "0.24", "0.28", "0.32"],
      [0.18, 0.22, 0.26, 0.30, 0.34])
ax_f.plot(grid(0.0, len(l_ratio)), l_ratio, color="black", lw=1.0, clip_on=False)

# (G)
ax_gl = panel(0.722, 1025, 0.719, 1130, 0.722, 0.719)
ticks(ax_gl, [0.722, 0.721, 0.720, 0.719], ["0.722", "0.721", "0.72", "0.719"],
      [0.7215, 0.7205, 0.7195])
ax_gr = panel(-10, 1062.3, -11.2, 1154.3, -10, -11.4, side="right", pad=13)
ticks(ax_gr, [-10, -10.4, -10.8, -11.2], ["-10", "-10.4", "-10.8", "-11.2"],
      [-10.2, -10.6, -11.0, -11.4])
ax_gl.plot(sr_age, sr_ratio, color=NAVY, lw=1.0, marker="o", ms=7.5, mfc="white",
           mec="black", mew=1.1, clip_on=False)
ax_gr.plot(nd_age, eps_nd, color="black", lw=1.0, marker="o", ms=7.5, mfc="black",
           mec="black", clip_on=False)

# (H)
ax_hl = panel(96, 1183.3, 72, 1270.7, 96, 72)
ticks(ax_hl, [96, 88, 80, 72], ["96", "88", "80", "72"], [92, 84, 76])
ax_hr = panel(16, 1273.3, 0, 1331.7, 20, 0, side="right", pad=13)
ticks(ax_hr, [16, 8, 0], ["16", "8", "0"], [20, 12, 4])
ax_hl.plot(em_age, em1, color=NAVY, lw=1.0, marker="o", ms=7.5, mfc="white",
           mec="black", mew=1.1, clip_on=False)
ax_hr.plot(em_age, em2, color="black", lw=1.0, marker="o", ms=7.5, mfc="black",
           mec="black", clip_on=False)

# (I) ISF
ax_i = panel(68, 1320.7, 48, 1460.7, 68, 48)
ticks(ax_i, [68, 64, 60, 56, 52, 48], ["68", "64", "60", "56", "52", "48"],
      [66, 62, 58, 54, 50])
isf_age = grid(0.0, len(isf))
ax_i.fill_between(isf_age, 48, isf, color="#c8c8c8", lw=0)
ax_i.plot(isf_age, isf, color="black", lw=1.0, clip_on=False)

# panel letters
for letter, (px, py) in {"A": (395, 138), "B": (388, 350), "C": (393, 522), "D": (395, 688),
                         "E": (395, 795), "F": (395, 902), "G": (671, 1037),
                         "H": (671, 1212), "I": (397, 1338)}.items():
    fig.text(*xy(px, py), letter, fontsize=16, fontweight="bold", ha="center", va="center")

# left axis titles
left_titles = [("LR04", 211, 205, 17), ("$\\delta^{18}$O(‰)", 244, 204, 17),
               ("IRM ratio", 214, 398, 17), ("(component 2/", 241, 398, 13),
               ("component 3)", 257, 398, 13),
               ("ARM/SIRM", 219, 582, 17), ("(relative)", 241, 582, 17),
               ("HIRM$_{\\mathrm{corr}}$", 213, 850, 17), ("(relative)", 238, 850, 17),
               ("$^{\\mathrm{87}}$Sr/$^{\\mathrm{86}}$Sr", 209, 1063, 17),
               ("EM1 (%)", 206, 1225, 17), ("(eolian)", 228, 1225, 17),
               ("ISF (wt%)", 231, 1390, 17)]
for txt, px, py, fs in left_titles:
    fig.text(*xy(px, py), txt, fontsize=fs, rotation=90, ha="center", va="center")

right_titles = [("$\\chi_{\\mathrm{ARM}}$/SIRM", 1188, 374, 17),
                ("(10$^{\\mathrm{-3}}$m/A)", 1157, 374, 17),
                ("HIRM$_{\\mathrm{100}}$", 1203, 748, 17),
                ("(10$^{\\mathrm{-3}}$Am$^{\\mathrm{2}}$/kg)", 1165, 753, 17),
                ("L-ratio", 1178, 965, 17), ("ε$_{\\mathrm{Nd}}$", 1183, 1110, 15),
                ("EM2 (%)", 1173, 1298, 17), ("(volcanic)", 1141, 1299, 17)]
for txt, px, py, fs in right_titles:
    fig.text(*xy(px, py), txt, fontsize=fs, rotation=270, ha="center", va="center")

# pink direction arrows
fig.text(*xy(177, 293), "biogenic", fontsize=16, color=PINK, ha="center", va="center")
fig.text(*xy(165, 662), "detrital", fontsize=16, color=PINK, ha="center", va="center")
fig.text(*xy(1203, 885), "Soft", fontsize=16, color=PINK, ha="center", va="center")
fig.text(*xy(1208, 1040), "Hard", fontsize=16, color=PINK, ha="center", va="center")
for (xa, ya), (xb, yb) in [((165, 333), (165, 643)), ((1203, 905), (1203, 1022))]:
    fig.add_artist(FancyArrowPatch(xy(xa, ya), xy(xb, yb), transform=fig.transFigure,
                                   arrowstyle="<->,head_length=0.5,head_width=0.25",
                                   mutation_scale=20, color=PINK, lw=1.5))

# annotations
for txt, (tx, ty), (ax0, ay0), (ax1, ay1) in [
        ("Magnetic\nenrichment", (971, 877), (885, 870), (832, 828)),
        ("Relative\nsoftening", (972, 957), (885, 958), (832, 917))]:
    fig.text(*xy(tx, ty), txt, fontsize=15, family="Lato", fontweight="bold",
             fontstyle="italic", ha="center", va="center", linespacing=1.3)
    fig.add_artist(FancyArrowPatch(xy(ax0, ay0), xy(ax1, ay1), transform=fig.transFigure,
                                   arrowstyle="-|>,head_length=0.7,head_width=0.35",
                                   mutation_scale=22, color="black", lw=2.2))

# frame
fig.add_artist(Rectangle(xy(7, 1568), (1352 - 7) / W, (1568 - 6) / H, transform=fig.transFigure,
                         fill=False, ec="#8c8c8c", lw=1.0))

# ---------------------------------------------------------------- caption
caption_lines = [
    "*FIGURE 5* | Temporal variations of global oxygen isotope stack, magnetic and geochemical "
    "compositions of NPGP1401-2A and reference cores. *(A)* LR04 (#Lisiecki#",
    "#and Raymo, 2005#); *(B)* Ratios of anhysteretic remanent susceptibility to SIRM "
    "(χ$_{\\mathrm{ARM}}$/SIRM) (#Shin et al., 2019#) and IRM components (Component 2 and 3); *(C)* ARM/SIRM",
    "of reference cores (NGC65/KR0310-PC1 and SO202-39-3; *Figure 1*); *(D)* HIRM$_{\\mathrm{100}}$; "
    "*(E)* HIRM$_{\\mathrm{corr}}$ (corrected HIRM$_{\\mathrm{100}}$ for the non-terrigenous fraction calculated by",
    "HIRM$_{\\mathrm{corr}}$ = HIRM$_{\\mathrm{100}}$/(100−water content%)/inorganic silicate fraction (ISF%); "
    "*(F)* L-ratio; *(G)* $^{\\mathrm{87}}$Sr/$^{\\mathrm{88}}$Sr (white dots) and ε$_{\\mathrm{Nd}}$ (black dots) "
    "values (#Lee et al., 2019#); *(H)*",
    "the major end-members, EM1 (white dots) EM2 (black dots), from grain size analysis "
    "(#Lee et al., 2019#); *(I)* ISF content (wt%). The MPT is marked at the top (1.2–0.7 Ma;",
    "#Clark et al., 2006#). Red in *(C)* presents intervals of post-depositional alteration.",
]

# pick a condensed face for the caption when one is installed
entries = font_manager.fontManager.ttflist
names = {f.name for f in entries}
cap_font = {"family": ["Liberation Sans", "DejaVu Sans"]}
narrow = False
for nm in ["Liberation Sans Narrow", "Roboto Condensed", "Open Sans Condensed",
           "Noto Sans Condensed", "DejaVu Sans Condensed", "Arial Narrow"]:
    if nm in names:
        cap_font = {"family": [nm, "DejaVu Sans"]}
        narrow = True
        break
if not narrow:
    for nm in ["Roboto", "Noto Sans", "Open Sans", "Liberation Sans", "DejaVu Sans"]:
        if any(f.name == nm and f.stretch in ("condensed", "semi-condensed", "narrow")
               for f in entries):
            cap_font = {"family": [nm, "DejaVu Sans"], "fontstretch": "condensed"}
            narrow = True
            break

cap_style = {"n": {"color": "black"}, "b": {"color": "black", "fontweight": "bold"},
             "g": {"color": "#9a9a9a"}}


def parse(line):
    words = [[]]
    style = "n"
    buf = ""
    in_math = False
    for ch in line + " ":
        if ch == "$":
            in_math = not in_math
            buf += ch
        elif in_math:
            buf += ch
        elif ch in "*# ":
            if buf:
                words[-1].append((buf, style))
                buf = ""
            if ch == "*":
                style = "n" if style == "b" else "b"
            elif ch == "#":
                style = "n" if style == "g" else "g"
            else:
                words.append([])
        else:
            buf += ch
    return [w for w in words if w]


renderer = fig.canvas.get_renderer()
LEFT, RIGHT = 24, 1321


def build(size):
    rows = []
    for line in caption_lines:
        items = []
        for w in parse(line):
            parts = []
            for txt, st in w:
                t = fig.text(0, 0, txt, fontsize=size, va="baseline", ha="left",
                             **cap_font, **cap_style[st])
                parts.append((t, t.get_window_extent(renderer).width))
            items.append(parts)
        rows.append(items)
    a = fig.text(0, 0, "a a", fontsize=size, **cap_font)
    b = fig.text(0, 0, "aa", fontsize=size, **cap_font)
    space = a.get_window_extent(renderer).width - b.get_window_extent(renderer).width
    a.remove()
    b.remove()
    return rows, space


size = 13.5 if narrow else 12.0
rows, space = build(size)
need = max((sum(w for p in items for _, w in p) + (len(items) - 1) * 0.8 * space) / (RIGHT - LEFT)
           for items in rows)
if need > 1:
    for items in rows:
        for p in items:
            for t, _ in p:
                t.remove()
    size = size / need * 0.99
    rows, space = build(size)

for i, items in enumerate(rows):
    base = 1598 + 25 * i
    total = sum(w for p in items for _, w in p)
    gap = (RIGHT - LEFT - total) / (len(items) - 1) if i < len(rows) - 1 else space
    x = LEFT
    for p in items:
        for t, w in p:
            t.set_position(xy(x, base))
            x += w
        x += gap

fig.savefig("out.png", dpi=100)
